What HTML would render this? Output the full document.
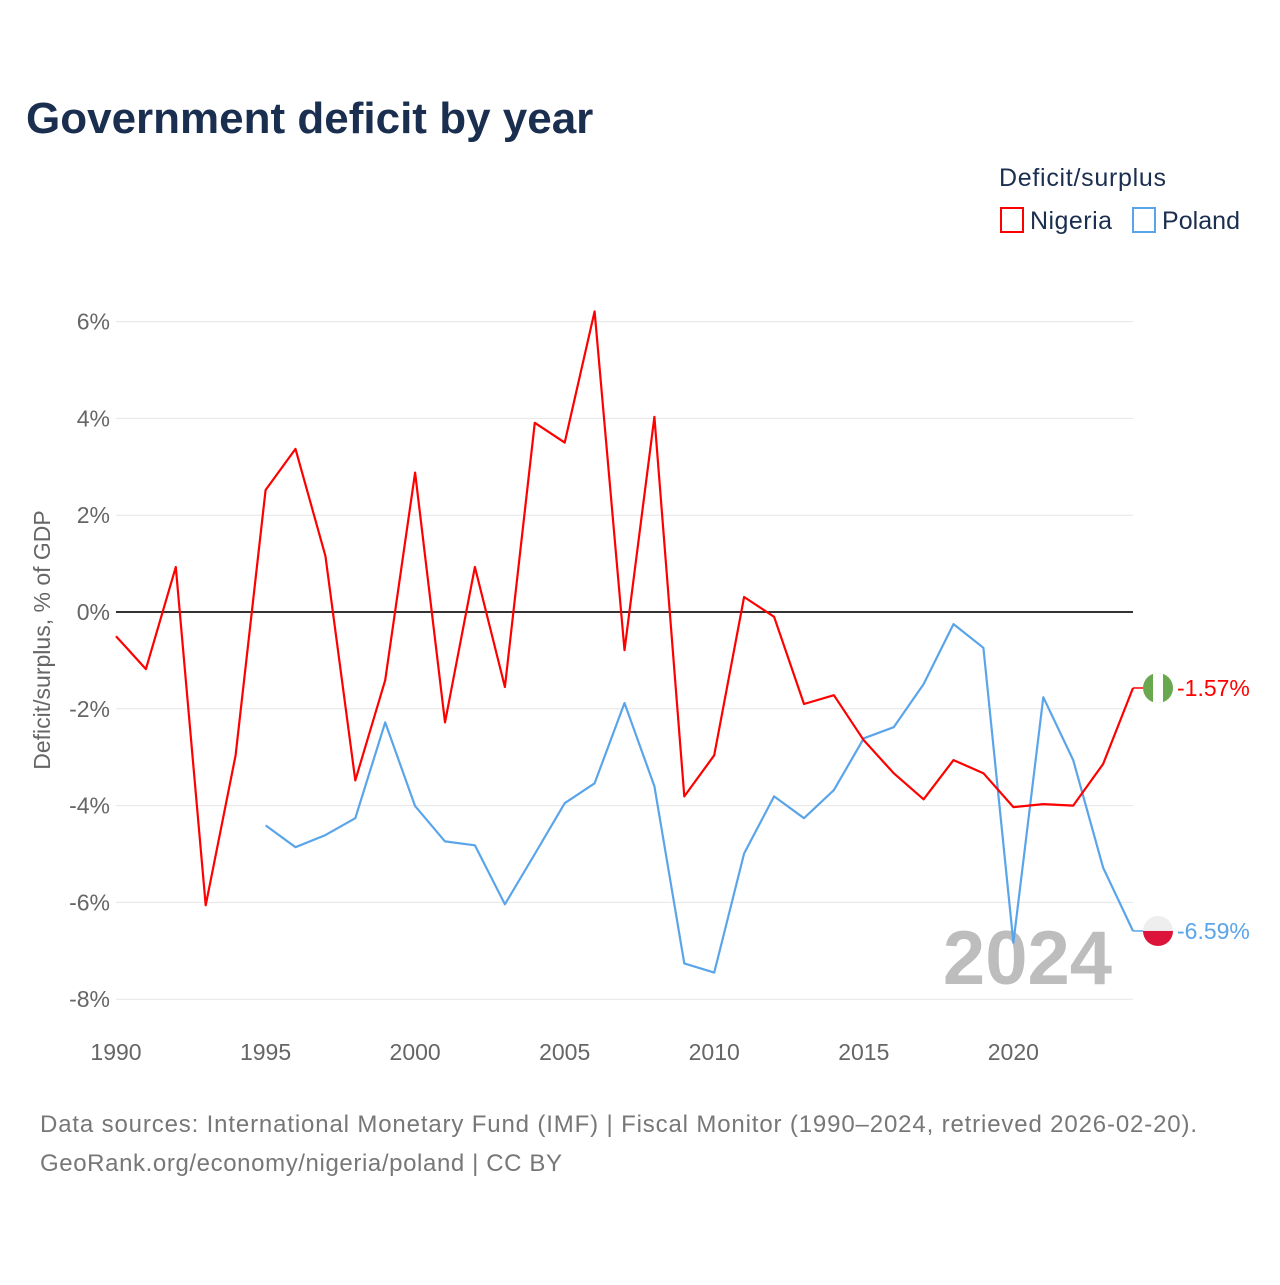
<!DOCTYPE html>
<html><head><meta charset="utf-8"><style>
body{margin:0;background:#fff;font-family:"Liberation Sans",sans-serif}
svg text{font-family:"Liberation Sans",sans-serif}
</style></head><body>
<svg id="chart" width="1280" height="1280" viewBox="0 0 1280 1280" xmlns="http://www.w3.org/2000/svg">
<text x="26" y="133" font-size="44" font-weight="bold" fill="#1a2e4f">Government deficit by year</text>
<text x="999" y="186" font-size="25" fill="#1a2e4f" textLength="167">Deficit/surplus</text>
<g><rect x="1001" y="208" width="22" height="24" fill="none" stroke="#ff0000" stroke-width="2"/><text x="1030" y="229" font-size="25" fill="#1a2e4f" textLength="82">Nigeria</text></g>
<g><rect x="1133" y="208" width="22" height="24" fill="none" stroke="#5aa5ea" stroke-width="2"/><text x="1162" y="229" font-size="25" fill="#1a2e4f" textLength="78">Poland</text></g>
<g id="grid"></g>
<g id="yticks"></g>
<g id="xticks"></g>
<text transform="translate(50,640) rotate(-90)" text-anchor="middle" font-size="23" fill="#666">Deficit/surplus, % of GDP</text>
<text x="1112" y="984" text-anchor="end" font-size="76" font-weight="bold" fill="#bdbdbd">2024</text>
<g id="series"></g>
<text x="40" y="1132" font-size="24" fill="#777" textLength="1157">Data sources: International Monetary Fund (IMF) | Fiscal Monitor (1990–2024, retrieved 2026-02-20).</text>
<text x="40" y="1171" font-size="24" fill="#777" textLength="522">GeoRank.org/economy/nigeria/poland | CC BY</text>
</svg>
<script>
const years=[];for(let y=1990;y<=2024;y++)years.push(y);
const nigeria=[-0.5,-1.18,0.93,-6.06,-2.96,2.52,3.37,1.16,-3.48,-1.41,2.88,-2.28,0.93,-1.55,3.91,3.5,6.21,-0.79,4.03,-3.81,-2.96,0.31,-0.1,-1.9,-1.72,-2.65,-3.33,-3.87,-3.06,-3.33,-4.03,-3.97,-4.0,-3.14,-1.57];
const poland=[null,null,null,null,null,-4.41,-4.86,-4.61,-4.26,-2.28,-4.01,-4.74,-4.82,-6.04,-5.0,-3.95,-3.54,-1.88,-3.6,-7.26,-7.45,-4.99,-3.81,-4.26,-3.68,-2.61,-2.38,-1.49,-0.25,-0.74,-6.83,-1.76,-3.06,-5.28,-6.59];
const yTicks=[6,4,2,0,-2,-4,-6,-8];
const xTicks=[1990,1995,2000,2005,2010,2015,2020];
const NS="http://www.w3.org/2000/svg";
const X=y=>116+(y-1990)*(1133-116)/34;
const Y=v=>612-v*48.4;
function mk(tag,attrs,parent){const e=document.createElementNS(NS,tag);for(const k in attrs)e.setAttribute(k,attrs[k]);parent.appendChild(e);return e;}
const grid=document.getElementById('grid'),yt=document.getElementById('yticks'),xt=document.getElementById('xticks'),ser=document.getElementById('series');
yTicks.forEach(v=>{
 const l=mk('line',{x1:116,x2:1133,y1:Y(v),y2:Y(v),stroke:v===0?'#333':'#e6e6e6','stroke-width':v===0?2:1},grid);
 
 
 const t=mk('text',{x:110,y:Y(v)+8,'text-anchor':'end','font-size':23,fill:'#666'},yt);
 t.textContent=v+'%';
 
 
});
xTicks.forEach(y=>{
 const t=mk('text',{x:X(y),y:1060,'text-anchor':'middle','font-size':23,fill:'#666'},xt);
 t.textContent=y;
 
 
});
function line(data,color,name){
 let d='';data.forEach((v,i)=>{if(v==null)return;d+=(d?'L':'M')+X(years[i]).toFixed(1)+','+Y(v).toFixed(1);});
 const p=mk('path',{d:d,fill:'none',stroke:color,'stroke-width':2.2,'stroke-linejoin':'round'},ser);
 
 
}
line(poland,'#5aa5ea','poland-line');
line(nigeria,'#ff0000','nigeria-line');
function endLabel(v,color,name,flag){
 const cx=1158,cy=Y(v);
 mk('line',{x1:1133,x2:1144,y1:cy,y2:cy,stroke:color,'stroke-width':1.5},ser);
 const g=mk('g',{},ser);
 
 
 const cp=mk('clipPath',{id:'c'+name},g);mk('circle',{cx:cx,cy:cy,r:15},cp);
 const gg=mk('g',{'clip-path':'url(#c'+name+')'},g);
 if(flag==='ng'){mk('rect',{x:cx-15,y:cy-15,width:30,height:30,fill:'#6aa84f'},gg);mk('rect',{x:cx-5,y:cy-15,width:10,height:30,fill:'#fff'},gg);}
 else{mk('rect',{x:cx-15,y:cy-15,width:30,height:15,fill:'#eee'},gg);mk('rect',{x:cx-15,y:cy,width:30,height:15,fill:'#dc143c'},gg);}
 const t=mk('text',{x:1177,y:cy+8,'font-size':23,fill:color},ser);
 t.textContent=v.toFixed(2)+'%';
 
 
}
endLabel(nigeria[nigeria.length-1],'#ff0000','nigeria','ng');
endLabel(poland[poland.length-1],'#5aa5ea','poland','pl');
</script>
</body></html>
